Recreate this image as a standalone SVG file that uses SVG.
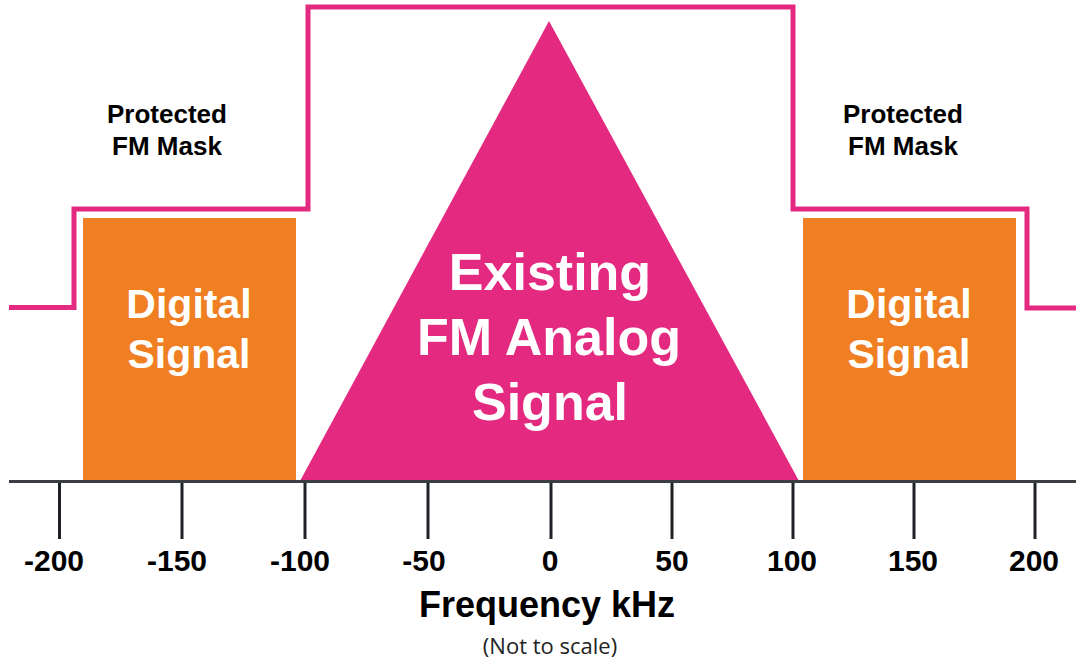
<svg xmlns="http://www.w3.org/2000/svg" width="1076" height="660" viewBox="0 0 1076 660">
<style>
.mask{fill:none;stroke:#E32A80;stroke-width:5;stroke-linejoin:miter}
.dig{fill:#EF7F22}
.tri{fill:#E32A80}
.axis{stroke:#3A3E42;stroke-width:3;fill:none}
.tick{stroke:#1E2226;stroke-width:3}
.lbl{font-family:"Liberation Sans",Arial,sans-serif;font-weight:bold;text-anchor:middle}
.num{font-size:30px;fill:#000}
.prot{font-size:26px;fill:#000}
.wd{font-size:41px;fill:#fff}
.wb{font-size:52px;fill:#fff}
.note{font-family:"Open Sans",sans-serif;font-size:22px;fill:#222;text-anchor:middle}
</style>
<rect width="1076" height="660" fill="#fff"/>
<g id="mask">
<polyline class="mask" points="9,307.5 74,307.5 74,209 308,209 308,7 793,7 793,209 1027,209 1027,308 1076,308"/>
</g>
<g id="digital-left">
<rect class="dig" x="83" y="218" width="213" height="263"/>
<text class="lbl wd" x="189" y="318">Digital</text>
<text class="lbl wd" x="189" y="368">Signal</text>
</g>
<g id="digital-right">
<rect class="dig" x="803" y="218" width="213" height="263"/>
<text class="lbl wd" x="909" y="318">Digital</text>
<text class="lbl wd" x="909" y="368">Signal</text>
</g>
<g id="fm-analog">
<polygon class="tri" points="300,481 549,21 799,481"/>
<text class="lbl wb" x="550" y="290">Existing</text>
<text class="lbl wb" x="549" y="355">FM Analog</text>
<text class="lbl wb" x="550" y="420">Signal</text>
</g>
<g id="protected-left">
<text class="lbl prot" x="167" y="123">Protected</text>
<text class="lbl prot" x="167" y="155">FM Mask</text>
</g>
<g id="protected-right">
<text class="lbl prot" x="903" y="123">Protected</text>
<text class="lbl prot" x="903" y="155">FM Mask</text>
</g>
<g id="axis">
<line class="axis" x1="9" y1="481.5" x2="1076" y2="481.5"/>
<g class="ticks">
<line class="tick" x1="59.5" y1="483" x2="59.5" y2="539"/>
<line class="tick" x1="182" y1="483" x2="182" y2="539"/>
<line class="tick" x1="305" y1="483" x2="305" y2="539"/>
<line class="tick" x1="428" y1="483" x2="428" y2="539"/>
<line class="tick" x1="551" y1="483" x2="551" y2="539"/>
<line class="tick" x1="672" y1="483" x2="672" y2="539"/>
<line class="tick" x1="793" y1="483" x2="793" y2="539"/>
<line class="tick" x1="914" y1="483" x2="914" y2="539"/>
<line class="tick" x1="1035" y1="483" x2="1035" y2="539"/>
</g>
<text class="lbl num" x="54" y="571">-200</text>
<text class="lbl num" x="177" y="571">-150</text>
<text class="lbl num" x="300" y="571">-100</text>
<text class="lbl num" x="424" y="571">-50</text>
<text class="lbl num" x="550" y="571">0</text>
<text class="lbl num" x="672" y="571">50</text>
<text class="lbl num" x="792" y="571">100</text>
<text class="lbl num" x="913" y="571">150</text>
<text class="lbl num" x="1034" y="571">200</text>
<text class="lbl" style="font-size:36px;fill:#000" x="547" y="617">Frequency kHz</text>
<text class="note" x="550" y="654">(Not to scale)</text>
</g>
</svg>
